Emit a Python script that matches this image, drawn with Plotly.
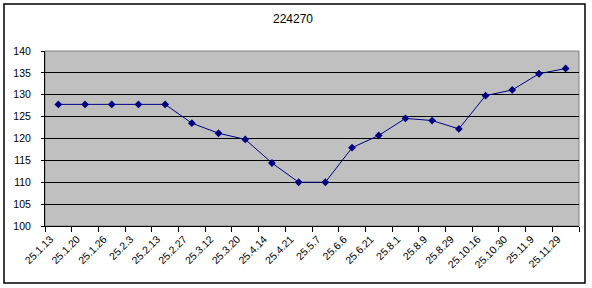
import plotly.graph_objects as go

title_text = "224270"
dates = ["25.1.13", "25.1.20", "25.1.26", "25.2.3", "25.2.13", "25.2.27", "25.3.12",
         "25.3.20", "25.4.14", "25.4.21", "25.5.7", "25.6.6", "25.6.21", "25.8.1",
         "25.8.9", "25.8.29", "25.10.16", "25.10.30", "25.11.9", "25.11.29"]
values = [127.8, 127.8, 127.8, 127.8, 127.8, 123.5, 121.2, 119.8, 114.4, 110.0,
          110.0, 117.9, 120.7, 124.6, 124.1, 122.2, 129.8, 131.1, 134.8, 136.0]
y_ticks = [100, 105, 110, 115, 120, 125, 130, 135, 140]

W, H = 592, 288
L, R, T, B = 45, 13, 51, 62
pw, ph = W - L - R, H - T - B

fig = go.Figure()
fig.add_trace(go.Scatter(
    x=dates, y=values, mode="lines+markers",
    line=dict(color="#000080", width=1),
    marker=dict(symbol="diamond", size=6, color="#000080"),
    hoverinfo="x+y",
))

# outer chart border
bx0, bx1, by0, by1 = 4, 585, 283, 4
fig.add_shape(type="rect", xref="paper", yref="paper",
              x0=(bx0 - L) / pw, x1=(bx1 - L) / pw,
              y0=(H - B - by0) / ph, y1=(H - B - by1) / ph,
              line=dict(color="black", width=1.5), fillcolor="rgba(0,0,0,0)", layer="above")
# plot area border (gray top/right)
fig.add_shape(type="rect", xref="paper", yref="paper", x0=0, x1=1, y0=0, y1=1,
              line=dict(color="#808080", width=1), fillcolor="rgba(0,0,0,0)", layer="below")

fig.update_layout(
    width=W, height=H,
    margin=dict(l=L, r=R, t=T, b=B, autoexpand=False),
    paper_bgcolor="white", plot_bgcolor="#C0C0C0",
    showlegend=False,
    font=dict(family="Liberation Sans, Arial, sans-serif", color="black", size=11),
    title=dict(text=title_text, x=293 / W, xanchor="center", y=1 - 19 / H, yanchor="middle",
               font=dict(size=12, color="black")),
    xaxis=dict(
        type="category", tickangle=-45, tickson="boundaries", ticks="outside",
        ticklen=5, tickcolor="black", showline=True, linecolor="black", linewidth=1,
        showgrid=False, automargin=False, tickfont=dict(size=10.5),
        ticklabelstandoff=2, ticklabelshift=-8,
        range=[-0.5, len(dates) - 0.5],
    ),
    yaxis=dict(
        range=[100, 140], tickvals=y_ticks, ticks="outside", ticklen=3, tickcolor="black",
        showline=True, linecolor="black", linewidth=1, showgrid=True, gridcolor="black",
        gridwidth=1, zeroline=False, automargin=False, tickfont=dict(size=10.5),
        ticklabelstandoff=8,
    ),
)

fig.write_html("out.html")
